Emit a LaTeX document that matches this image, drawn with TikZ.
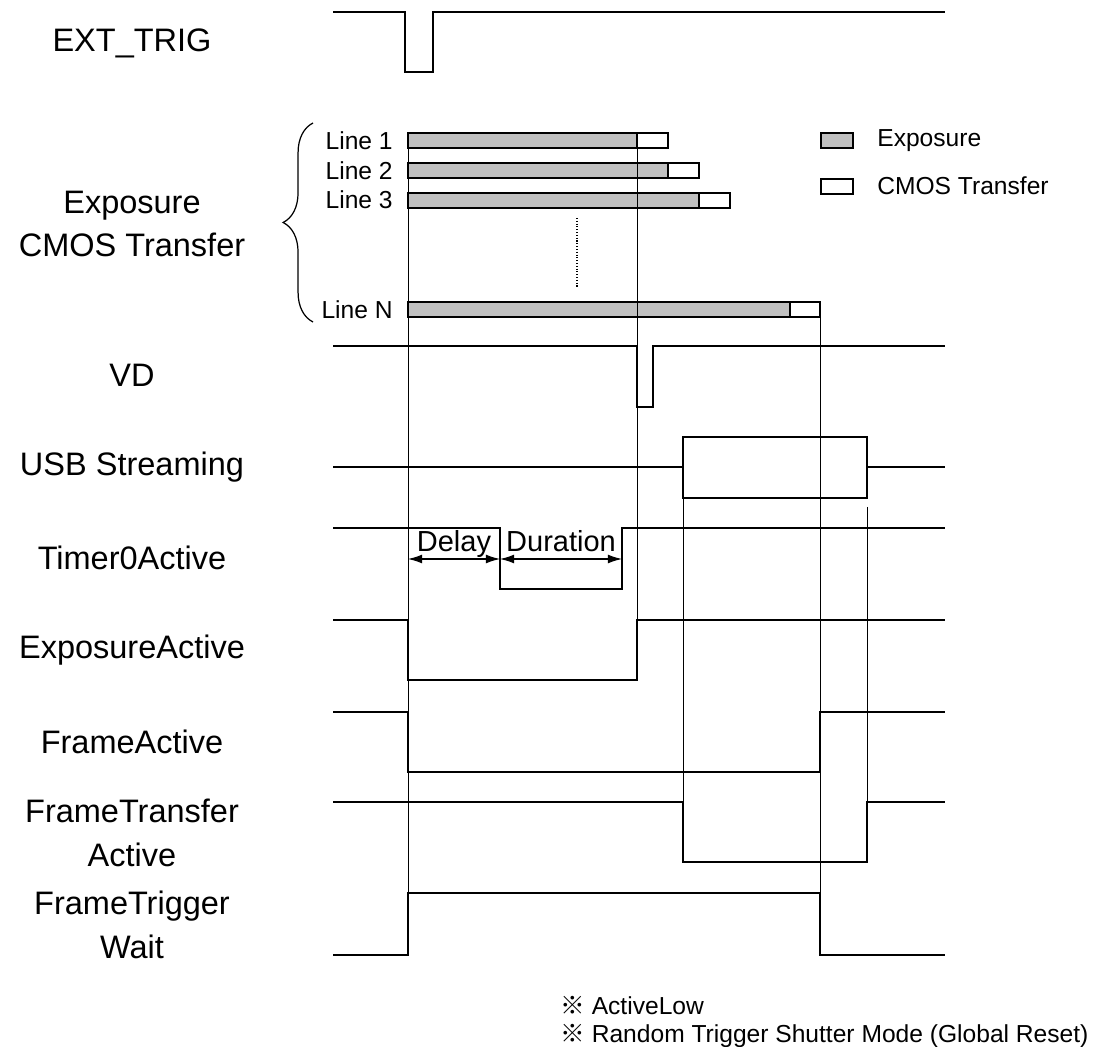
\documentclass[tikz,border=0pt]{standalone}
\usepackage{fontspec}
\setmainfont{Liberation Sans}
\newfontfamily\jpfont{Noto Sans CJK JP}
\usetikzlibrary{arrows.meta,decorations.pathreplacing}
\definecolor{BarGray}{HTML}{C0C0C0}

\begin{document}
\begin{tikzpicture}[x=0.02cm, y=-0.02cm,
    siglabel/.style={font=\fontsize{18.5}{25}\selectfont, align=center, inner sep=0pt},
    linelabel/.style={font=\fontsize{14}{16}\selectfont, anchor=east, inner sep=0pt},
    legendtext/.style={font=\fontsize{14}{16}\selectfont, anchor=west, inner sep=0pt},
    wave/.style={line width=1.1pt, line join=miter},
    guide/.style={line width=0.55pt},
    expbar/.style={draw, fill=BarGray, line width=0.8pt},
    xferbar/.style={draw, fill=white, line width=0.8pt},
    spanarrow/.style={{Latex[length=8pt,width=5pt]}-{Latex[length=8pt,width=5pt]}, line width=0.6pt},
    spantext/.style={font=\fontsize{16.5}{18}\selectfont, inner sep=0pt, text height=12pt, text depth=3pt},
    note/.style={font=\fontsize{14}{15.8}\selectfont, align=left, anchor=north west, inner sep=0pt}
]
\useasboundingbox (0,0) rectangle (1120,1047);

% signal names
\node[siglabel] (extTrigLbl) at (132,43) {EXT\_TRIG};
\node[siglabel] (expLbl) at (132,224) {Exposure\\CMOS Transfer};
\node[siglabel] (vdLbl) at (132,375) {VD};
\node[siglabel] (usbLbl) at (132,467) {USB Streaming};
\node[siglabel] (timerLbl) at (132,558) {Timer0Active};
\node[siglabel] (expActLbl) at (132,650) {ExposureActive};
\node[siglabel] (frameActLbl) at (132,742) {FrameActive};
\node[siglabel] (frameXferLbl) at (132,833) {FrameTransfer\\Active};
\node[siglabel] (frameTrigLbl) at (132,925) {FrameTrigger\\Wait};

% exposure / transfer per line
\node[linelabel] (line1Lbl) at (393,141) {Line 1};
\node[linelabel] (line2Lbl) at (393,171) {Line 2};
\node[linelabel] (line3Lbl) at (393,200) {Line 3};
\node[linelabel] (lineNLbl) at (393,310) {Line N};

\draw[expbar] (408,133) rectangle (637,148);
\draw[xferbar] (637,133) rectangle (668,148);
\draw[expbar] (408,163) rectangle (668,178);
\draw[xferbar] (668,163) rectangle (699,178);
\draw[expbar] (408,193) rectangle (699,208);
\draw[xferbar] (699,193) rectangle (730,208);
\draw[expbar] (408,302) rectangle (790,317);
\draw[xferbar] (790,302) rectangle (820,317);
\draw[densely dotted, line width=0.6pt] (577,218) -- (577,287);

\draw[decorate, decoration={brace, amplitude=17pt}, line width=0.7pt] (313,322) -- (313,123);

% legend
\draw[expbar] (821,133) rectangle (853,148);
\node[legendtext] (expKey) at (877,141) {Exposure};
\draw[xferbar] (821,179) rectangle (853,194);
\node[legendtext] (xferKey) at (877,186) {CMOS Transfer};

% timing guides
\draw[guide] (408,133) -- (408,893);
\draw[guide] (637,133) -- (637,620);
\draw[guide] (683,437) -- (683,862);
\draw[guide] (820,317) -- (820,955);
\draw[guide] (867,507) -- (867,802);

% waveforms
\draw[wave] (333,12) -- (405,12) -- (405,72) -- (433,72) -- (433,12) -- (945,12);
\draw[wave] (333,346) -- (637,346) -- (637,407) -- (653,407) -- (653,346) -- (945,346);
\draw[wave] (333,467) -- (683,467);
\draw[wave] (683,437) rectangle (867,498);
\draw[wave] (867,467) -- (945,467);
\draw[wave] (333,528) -- (500,528) -- (500,589) -- (622,589) -- (622,528) -- (945,528);
\draw[wave] (333,620) -- (408,620) -- (408,680) -- (637,680) -- (637,620) -- (945,620);
\draw[wave] (333,712) -- (408,712) -- (408,772) -- (820,772) -- (820,712) -- (945,712);
\draw[wave] (333,802) -- (683,802) -- (683,862) -- (867,862) -- (867,802) -- (945,802);
\draw[wave] (333,955) -- (408,955) -- (408,893) -- (820,893) -- (820,955) -- (945,955);

% delay / duration
\coordinate (delayStart) at (408,559);
\coordinate (delayEnd) at (500,559);
\coordinate (durEnd) at (622,559);
\draw[spanarrow] (delayStart) -- node[spantext, above=1pt] (delayLbl) {Delay} (delayEnd);
\draw[spanarrow] (delayEnd) -- node[spantext, above=1pt] (durLbl) {Duration} (durEnd);

% notes
\node[note] (notes) at (560,996) {{\jpfont ※} ActiveLow\\{\jpfont ※} Random Trigger Shutter Mode (Global Reset)};
\end{tikzpicture}
\end{document}
